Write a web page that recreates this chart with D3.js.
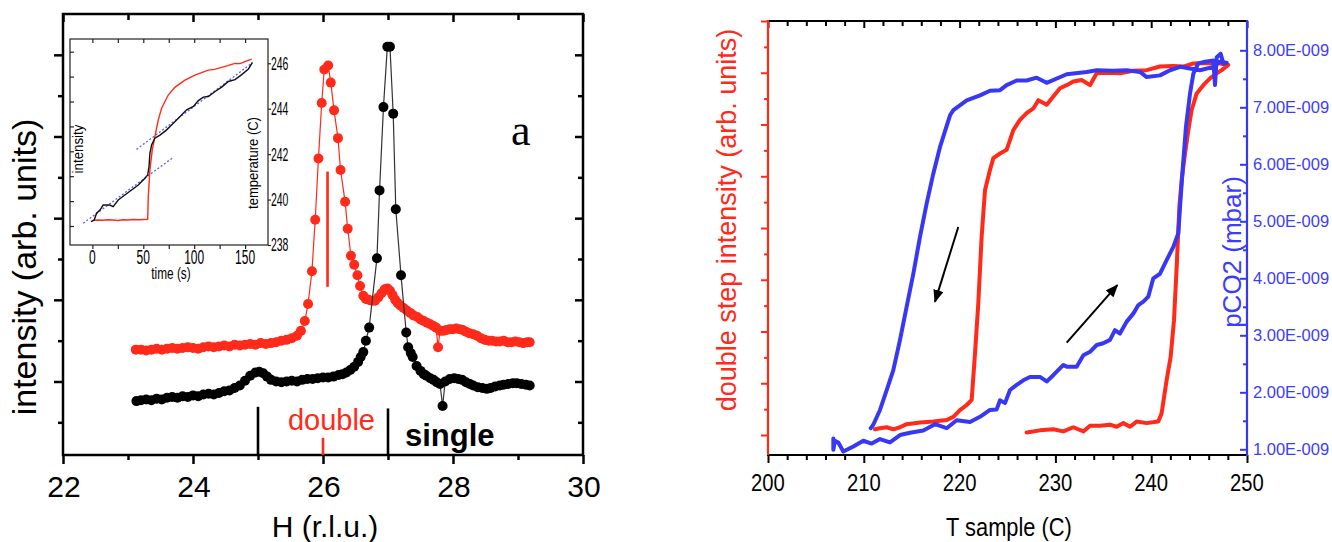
<!DOCTYPE html>
<html>
<head>
<meta charset="utf-8">
<script src="https://cdn.jsdelivr.net/npm/d3@7"></script>
<style>
  body { margin: 0; background: #fff; }
  svg { display: block; font-family: Arial, "Liberation Sans", Helvetica, sans-serif; }
</style>
</head>
<body>
<svg id="chart" width="1332" height="542"></svg>
<script>
// ---- left panel: H scans (H in r.l.u., intensity in arb. units) ----
const doubleScan = [
  [23.12,0.39],[23.2,0.39],[23.28,0.38],[23.36,0.39],[23.44,0.40],[23.52,0.39],[23.6,0.40],[23.68,0.41],
  [23.76,0.40],[23.84,0.41],[23.92,0.42],[24.0,0.41],[24.08,0.40],[24.16,0.42],[24.24,0.43],[24.32,0.42],
  [24.4,0.43],[24.48,0.44],[24.56,0.43],[24.64,0.45],[24.72,0.44],[24.8,0.45],[24.88,0.46],[24.96,0.45],
  [25.04,0.47],[25.12,0.46],[25.2,0.47],[25.28,0.48],[25.36,0.50],[25.44,0.51],[25.52,0.53],[25.6,0.56],
  [25.66,0.62],[25.72,0.74],[25.77,0.95],[25.83,1.35],[25.88,1.98],[25.93,2.73],[25.98,3.41],[26.02,3.82],
  [26.08,3.87],[26.12,3.66],[26.17,3.32],[26.23,2.98],[26.27,2.59],[26.34,2.20],[26.38,1.87],[26.43,1.54],
  [26.48,1.43],[26.53,1.30],[26.57,1.17],[26.62,1.05],[26.66,1.01],[26.70,1.00],[26.75,0.99],[26.80,0.99],
  [26.85,1.03],[26.90,1.08],[26.95,1.13],[26.99,1.14],[27.03,1.11],[27.07,1.06],[27.11,1.00],[27.15,0.96],
  [27.19,0.93],[27.24,0.90],[27.29,0.87],[27.34,0.84],[27.39,0.81],[27.45,0.79],[27.50,0.76],[27.55,0.74],
  [27.60,0.72],[27.65,0.70],[27.70,0.68],[27.74,0.66],[27.77,0.42],[27.80,0.62],[27.85,0.62],[27.90,0.63],
  [27.95,0.64],[28.00,0.64],[28.05,0.65],[28.10,0.64],[28.15,0.63],[28.20,0.61],[28.25,0.59],[28.31,0.58],
  [28.37,0.56],[28.43,0.53],[28.49,0.51],[28.55,0.50],[28.60,0.50],[28.66,0.49],[28.72,0.49],[28.78,0.50],
  [28.84,0.48],[28.90,0.48],[28.96,0.49],[29.02,0.48],[29.08,0.47],[29.14,0.48],[29.18,0.48]
];
const singleScan = [
  [23.13,-0.24],[23.2,-0.23],[23.28,-0.22],[23.36,-0.23],[23.44,-0.21],[23.52,-0.22],[23.6,-0.20],[23.68,-0.19],
  [23.76,-0.20],[23.84,-0.18],[23.92,-0.19],[24.0,-0.17],[24.08,-0.18],[24.16,-0.16],[24.24,-0.15],[24.32,-0.16],
  [24.4,-0.14],[24.48,-0.12],[24.56,-0.11],[24.64,-0.08],[24.72,-0.05],[24.8,0.01],[24.88,0.07],[24.96,0.11],
  [25.02,0.12],[25.08,0.10],[25.14,0.06],[25.2,0.02],[25.28,0.0],[25.36,-0.01],[25.44,0.0],[25.52,0.01],
  [25.6,0.0],[25.68,0.02],[25.76,0.03],[25.84,0.03],[25.92,0.04],[26.0,0.05],[26.08,0.05],[26.16,0.06],
  [26.24,0.08],[26.3,0.09],[26.36,0.11],[26.42,0.14],[26.48,0.18],[26.54,0.24],[26.58,0.30],[26.62,0.36],
  [26.66,0.50],[26.71,0.66],[26.83,1.51],[26.87,2.34],[26.93,3.36],[26.99,4.10],[27.03,4.10],[27.08,3.28],
  [27.12,2.11],[27.20,1.30],[27.28,0.60],[27.31,0.42],[27.35,0.35],[27.38,0.30],[27.44,0.19],[27.5,0.13],
  [27.55,0.09],[27.59,0.07],[27.65,0.04],[27.7,0.02],[27.75,-0.01],[27.8,-0.03],[27.84,-0.30],[27.88,0.0],
  [27.95,0.03],[28.02,0.04],[28.08,0.03],[28.14,0.02],[28.2,-0.01],[28.26,-0.03],[28.31,-0.05],[28.38,-0.07],
  [28.45,-0.08],[28.52,-0.09],[28.58,-0.08],[28.65,-0.06],[28.72,-0.05],[28.78,-0.04],[28.85,-0.03],[28.92,-0.02],
  [28.98,-0.02],[29.05,-0.03],[29.12,-0.04],[29.18,-0.05]
];
const hTicks = [22, 24, 26, 28, 30];
const hMinor = [23, 25, 27, 29];
const iTicks = [0, 1, 2, 3, 4];
const iMinor = [-0.5, 0.5, 1.5, 2.5, 3.5];
// marker lines: [H, from intensity, to intensity]
const blackMarks = [[25, -0.31, -0.9], [27, -0.33, -0.9]];
const redMarks = [[26, -0.69, -0.9], [26.07, 1.16, 2.57]];

// ---- inset: time scan ----
const insetIntensity = [
  [0,1.22],[5,1.24],[10,1.23],[15,1.25],[20,1.24],[25,1.22],[30,1.25],[35,1.24],[40,1.26],[45,1.25],[50,1.26],
  [54.3,1.27],[54.9,2.18],[56.5,3.25],[58.8,4.05],[61.4,4.59],[64.7,5.26],[68,5.73],[74.5,6.26],[81,6.57],
  [90.9,6.86],[100.7,7.06],[113.8,7.26],[120,7.29],[126.9,7.37],[133,7.44],[140,7.53],[145,7.52],[149.8,7.60],[156.4,7.70]
];
const insetTemperature = [
  [-1.5,239.03],[1.8,239.10],[4.1,239.40],[7.4,239.54],[10.6,239.76],[17.2,239.76],[20.4,239.69],[25.4,239.98],
  [31.9,240.20],[38.5,240.42],[45.1,240.64],[51.6,240.94],[54.3,241.08],[55.6,241.45],[56.5,242.04],[58.2,242.41],
  [61.4,242.70],[66.4,242.84],[72.9,243.07],[79.5,243.36],[86.1,243.66],[92.6,243.95],[99.2,244.10],[104.1,244.36],
  [109,244.51],[113.9,244.54],[120.5,244.76],[127,244.95],[133.6,245.20],[140.1,245.28],[146.7,245.50],
  [153.3,245.75],[157.2,246.04]
];
const insetFits = [
  [[-9, 238.96], [79.5, 241.86]],
  [[43.4, 242.21], [156.5, 246.0]]
];
const tTicks = [0, 50, 100, 150];
const tMinor = [25, 75, 125];
const tempTicks = [238, 240, 242, 244, 246];

// ---- right panel: T sample (C) loop ----
const doubleStep = [
  [211.17,1.11],[211.69,1.13],[212.39,1.15],[213.08,1.11],[213.78,1.15],[214.47,1.21],[215.87,1.24],[217.26,1.26],
  [218.65,1.29],[219.35,1.35],[220.04,1.48],[220.74,1.58],[221.26,1.68],[221.61,2.58],[221.95,3.54],[222.30,4.83],
  [222.65,5.73],[223.17,6.12],[223.52,6.35],[224.22,6.44],[224.91,6.51],[225.61,6.89],[226.30,7.09],[227.00,7.22],
  [227.70,7.31],[228.22,7.47],[229.09,7.38],[229.78,7.54],[230.48,7.70],[231.18,7.76],[231.87,7.83],[232.74,7.86],
  [233.61,7.76],[234.31,7.99],[235.35,8.00],[236.74,7.99],[238.13,8.04],[239.53,8.05],[240.92,8.12],[242.31,8.13],
  [243.35,8.12],[244.40,8.18],[245.79,8.19],[247.18,8.18],[248.05,8.15],[247.36,8.05],[246.84,7.99],[246.14,7.89],
  [245.44,7.76],[244.75,7.60],[244.22,7.28],[243.88,6.89],[243.53,6.44],[243.18,5.93],[242.94,5.41],[242.66,4.25],
  [242.38,3.22],[242.03,2.51],[241.61,2.06],[241.09,1.42],[240.74,1.26],[239.53,1.23],[238.48,1.26],[237.79,1.16],
  [237.09,1.23],[236.40,1.16],[235.70,1.20],[234.66,1.18],[233.61,1.18],[232.92,1.07],[231.87,1.15],[230.83,1.07],
  [229.78,1.11],[228.39,1.09],[227.00,1.05]
];
const pco2 = [
  [206.82,1.19],[206.82,0.99],[206.99,1.15],[207.34,1.12],[207.86,0.96],[208.91,1.05],[209.95,1.15],[210.82,1.10],
  [211.69,1.18],[212.73,1.12],[213.78,1.25],[214.82,1.29],[216.21,1.33],[217.43,1.44],[218.65,1.37],[219.69,1.51],
  [221.09,1.48],[222.13,1.57],[223.17,1.69],[223.87,1.70],[224.22,1.86],[224.74,1.81],[225.26,2.04],[225.96,2.13],
  [226.65,2.21],[227.35,2.27],[228.39,2.27],[229.09,2.19],[229.78,2.30],[230.83,2.48],[231.18,2.45],[232.22,2.45],
  [232.92,2.65],[233.61,2.71],[234.31,2.83],[235.00,2.86],[235.70,2.92],[236.22,3.09],[236.74,3.03],[237.44,3.24],
  [238.13,3.38],[238.66,3.53],[239.18,3.59],[239.70,3.68],[240.22,4.00],[240.92,4.08],[241.61,4.32],[242.31,4.55],
  [242.83,4.79],[243.01,5.25],[243.28,5.90],[243.63,6.66],[244.05,7.24],[244.40,7.59],[244.92,7.77],[245.62,7.80],
  [246.49,7.82],[246.66,7.39],[246.84,7.88],[247.25,7.94],[247.53,7.77],[247.88,7.78],[247.18,7.80],[246.49,7.71],
  [245.10,7.65],[244.05,7.68],[243.01,7.71],[241.96,7.65],[240.92,7.56],[239.53,7.53],[238.83,7.62],[237.44,7.65],
  [236.05,7.64],[234.31,7.65],[233.26,7.62],[231.18,7.58],[229.09,7.43],[228.04,7.52],[227.00,7.47],[225.96,7.47],
  [224.91,7.39],[224.22,7.30],[223.17,7.29],[222.13,7.21],[220.74,7.12],[219.35,6.95],[219.00,6.86],[217.95,6.30],
  [217.26,5.84],[216.56,5.31],[215.87,4.73],[215.17,4.08],[214.47,3.50],[213.78,2.92],[213.08,2.39],[212.39,2.04],
  [211.69,1.69],[210.99,1.43],[210.72,1.37]
];
// arrows in (T, pCO2) units: [from, to]
const arrows = [
  [[219.86, 4.90], [217.43, 3.59]],
  [[231.18, 2.87], [236.46, 3.88]]
];
const tempAxisTicks = [200, 210, 220, 230, 240, 250];
const tempAxisMinor = d3.range(202, 250, 2).filter(d => d % 10 !== 0);
const redTicks = [1, 2, 3, 4, 5, 6, 7, 8, 9];
const redMinor = [1.5, 2.5, 3.5, 4.5, 5.5, 6.5, 7.5, 8.5];
const pTicks = [1, 2, 3, 4, 5, 6, 7, 8];
const pMinor = [1.5, 2.5, 3.5, 4.5, 5.5, 6.5, 7.5];

const RED = "#ff2a1a";
const BLUE = "#3838f2";
const BLUE_TXT = "#3c3cff";

const svg = d3.select("#chart");

// squeeze text horizontally like the narrow fonts of the original
function squeeze(sel, k) {
  sel.each(function () {
    const w = this.getComputedTextLength();
    d3.select(this).attr("textLength", w * k).attr("lengthAdjust", "spacingAndGlyphs");
  });
}

function ticks(axisGen, values, size, color, width, transform) {
  const g = svg.append("g").attr("transform", transform)
    .call(axisGen.tickValues(values).tickSize(size).tickFormat(""));
  g.select(".domain").remove();
  g.selectAll(".tick text").remove();
  g.selectAll(".tick line").attr("stroke", color).attr("stroke-width", width);
  return g;
}

// ================= left panel =================
const xL = d3.scaleLinear([22, 30], [63, 583]);
const yL = d3.scaleLinear([-0.9, 4.5], [455, 14]);

ticks(d3.axisBottom(xL), hTicks, 9, "#000", 2.5, "translate(0,455)");
ticks(d3.axisBottom(xL), hMinor, 5, "#000", 2.5, "translate(0,455)");
ticks(d3.axisTop(xL), hTicks, -8, "#000", 2.5, "translate(0,14)");
ticks(d3.axisTop(xL), hMinor, -6, "#000", 2.5, "translate(0,14)");
ticks(d3.axisLeft(yL), iTicks, 9, "#000", 2.5, "translate(63,0)");
ticks(d3.axisLeft(yL), iMinor, 5, "#000", 2.5, "translate(63,0)");
ticks(d3.axisRight(yL), iTicks, -8, "#000", 2.5, "translate(583,0)");
ticks(d3.axisRight(yL), iMinor, -5, "#000", 2.5, "translate(583,0)");

svg.append("rect").attr("x", 63).attr("y", 14).attr("width", 520).attr("height", 441)
  .attr("fill", "none").attr("stroke", "#000").attr("stroke-width", 2.5);

svg.append("g").selectAll("text").data(hTicks).join("text")
  .attr("x", d => xL(d) + 1).attr("y", 497)
  .attr("text-anchor", "middle").attr("font-size", 30).attr("fill", "#000")
  .text(d => d);

svg.append("text").attr("x", 325).attr("y", 537).attr("text-anchor", "middle")
  .attr("font-size", 30).attr("fill", "#000").text("H (r.l.u.)");

svg.append("text").attr("transform", "translate(36,267) rotate(-90)")
  .attr("text-anchor", "middle").attr("font-size", 34).attr("fill", "#000")
  .text("intensity (arb. units)");

const lineL = d3.line().x(d => xL(d[0])).y(d => yL(d[1]));

function scan(data, color, lineColor) {
  svg.append("path").datum(data).attr("d", lineL)
    .attr("fill", "none").attr("stroke", lineColor).attr("stroke-width", 1.2);
  svg.append("g").selectAll("circle").data(data).join("circle")
    .attr("cx", d => xL(d[0])).attr("cy", d => yL(d[1])).attr("r", 5)
    .attr("fill", color);
}
scan(doubleScan, RED, RED);
scan(singleScan, "#000", "#333");

svg.append("g").selectAll("line").data(blackMarks).join("line")
  .attr("x1", d => xL(d[0])).attr("x2", d => xL(d[0]))
  .attr("y1", d => yL(d[1])).attr("y2", d => yL(d[2]))
  .attr("stroke", "#000").attr("stroke-width", 2.6);
svg.append("g").selectAll("line").data(redMarks).join("line")
  .attr("x1", d => xL(d[0])).attr("x2", d => xL(d[0]))
  .attr("y1", d => yL(d[1])).attr("y2", d => yL(d[2]))
  .attr("stroke", RED).attr("stroke-width", 2.6);

svg.append("text").attr("x", xL(26.13)).attr("y", 430).attr("text-anchor", "middle")
  .attr("font-size", 29).attr("fill", RED).text("double");
svg.append("text").attr("x", 405).attr("y", 446).attr("font-size", 31)
  .attr("font-weight", "bold").attr("fill", "#000").text("single");
svg.append("text").attr("x", 511).attr("y", 145)
  .attr("font-family", "'Liberation Serif', 'Times New Roman', serif")
  .attr("font-size", 44).attr("fill", "#000").text("a");

// ---- inset ----
const xI = d3.scaleLinear([-22, 172.5], [70, 268]);
const yIT = d3.scaleLinear([238, 247.07], [245, 39]);
const yII = d3.scaleLinear([0.237, 8.51], [245, 39]);

svg.append("rect").attr("x", 70).attr("y", 39).attr("width", 198).attr("height", 206)
  .attr("fill", "#fff").attr("stroke", "#222").attr("stroke-width", 1.2);

ticks(d3.axisBottom(xI), tTicks.concat(tMinor), 4, "#222", 1.2, "translate(0,245)");
ticks(d3.axisTop(xI), tTicks.concat(tMinor), -4, "#222", 1.2, "translate(0,39)");
ticks(d3.axisLeft(yII), [1, 2, 3, 4, 5, 6, 7, 8], -4, "#222", 1.2, "translate(70,0)");
ticks(d3.axisRight(yIT), tempTicks, 3, "#222", 1.2, "translate(268,0)");

const lineIT = d3.line().x(d => xI(d[0])).y(d => yIT(d[1]));
const lineII = d3.line().x(d => xI(d[0])).y(d => yII(d[1]));

svg.append("g").selectAll("path").data(insetFits).join("path")
  .attr("d", lineIT).attr("fill", "none").attr("stroke", "#5b5bff")
  .attr("stroke-width", 1.3).attr("stroke-dasharray", "2,2");
svg.append("path").datum(insetIntensity).attr("d", lineII)
  .attr("fill", "none").attr("stroke", RED).attr("stroke-width", 1.4);
svg.append("path").datum(insetTemperature).attr("d", lineIT)
  .attr("fill", "none").attr("stroke", "#111").attr("stroke-width", 1.4);

svg.append("g").selectAll("text").data(tTicks).join("text")
  .attr("x", d => xI(d)).attr("y", 264).attr("text-anchor", "middle")
  .attr("font-size", 20).attr("fill", "#000").text(d => d)
  .call(squeeze, 0.6);
svg.append("g").selectAll("text").data(tempTicks).join("text")
  .attr("x", 271).attr("y", d => yIT(d)).attr("dy", "0.36em")
  .attr("font-size", 18).attr("fill", "#000").text(d => d)
  .call(squeeze, 0.58);
svg.append("text").attr("x", 171).attr("y", 279).attr("text-anchor", "middle")
  .attr("font-size", 16).attr("fill", "#000").text("time (s)").call(squeeze, 0.74);
svg.append("text").attr("transform", "translate(83,149) rotate(-90)")
  .attr("text-anchor", "middle").attr("font-size", 14).attr("fill", "#000")
  .text("intensity").call(squeeze, 0.95);
svg.append("text").attr("transform", "translate(258,163) rotate(-90)")
  .attr("text-anchor", "middle").attr("font-size", 14).attr("fill", "#000")
  .text("temperature (C)").call(squeeze, 0.93);

// ================= right panel =================
const xR = d3.scaleLinear([200, 250], [768, 1247]);
const yRed = d3.scaleLinear([0.614, 9.0], [455, 21]);
const yBlue = d3.scaleLinear([0.9, 8.514], [455, 21]);

ticks(d3.axisBottom(xR), tempAxisTicks, 8, "#000", 2, "translate(0,455)");
ticks(d3.axisBottom(xR), tempAxisMinor, 5, "#000", 2, "translate(0,455)");
ticks(d3.axisTop(xR), tempAxisTicks, -7, "#000", 2, "translate(0,21)");
ticks(d3.axisTop(xR), tempAxisMinor, -5, "#000", 2, "translate(0,21)");
ticks(d3.axisLeft(yRed), redTicks, 7, RED, 2, "translate(768,0)");
ticks(d3.axisLeft(yRed), redMinor, 4, RED, 2, "translate(768,0)");
ticks(d3.axisRight(yBlue), pTicks, -7, BLUE, 2, "translate(1247,0)");
ticks(d3.axisRight(yBlue), pMinor, -4, BLUE, 2, "translate(1247,0)");

svg.append("line").attr("x1", 767).attr("x2", 1248).attr("y1", 21).attr("y2", 21)
  .attr("stroke", "#000").attr("stroke-width", 2);
svg.append("line").attr("x1", 767).attr("x2", 1248).attr("y1", 455).attr("y2", 455)
  .attr("stroke", "#000").attr("stroke-width", 2);
svg.append("line").attr("x1", 768).attr("x2", 768).attr("y1", 20).attr("y2", 455)
  .attr("stroke", RED).attr("stroke-width", 2.2);
svg.append("line").attr("x1", 1247).attr("x2", 1247).attr("y1", 20).attr("y2", 456)
  .attr("stroke", BLUE).attr("stroke-width", 2.2);

svg.append("g").selectAll("text").data(tempAxisTicks).join("text")
  .attr("x", d => xR(d)).attr("y", 491).attr("text-anchor", "middle")
  .attr("font-size", 23).attr("fill", "#000").text(d => d)
  .call(squeeze, 0.88);
svg.append("text").attr("x", 1009).attr("y", 536).attr("text-anchor", "middle")
  .attr("font-size", 26).attr("fill", "#000").text("T sample (C)").call(squeeze, 0.84);

svg.append("g").selectAll("text").data(pTicks).join("text")
  .attr("x", 1253).attr("y", d => yBlue(d)).attr("dy", "0.36em")
  .attr("font-size", 16.5).attr("fill", BLUE_TXT).text(d => d.toFixed(2) + "E-009");

svg.append("text").attr("transform", "translate(736,220) rotate(-90)")
  .attr("text-anchor", "middle").attr("font-size", 27).attr("fill", RED)
  .text("double step intensity (arb. units)");
svg.append("text").attr("transform", "translate(1241,252) rotate(-90)")
  .attr("text-anchor", "middle").attr("font-size", 26).attr("fill", BLUE_TXT)
  .text("pCO2 (mbar)");

svg.append("path").datum(doubleStep)
  .attr("d", d3.line().x(d => xR(d[0])).y(d => yRed(d[1])))
  .attr("fill", "none").attr("stroke", RED).attr("stroke-width", 4)
  .attr("stroke-linejoin", "round").attr("stroke-linecap", "round");
svg.append("path").datum(pco2)
  .attr("d", d3.line().x(d => xR(d[0])).y(d => yBlue(d[1])))
  .attr("fill", "none").attr("stroke", BLUE).attr("stroke-width", 4)
  .attr("stroke-linejoin", "round").attr("stroke-linecap", "round");

svg.append("defs").append("marker").attr("id", "head")
  .attr("viewBox", "0 0 10 8").attr("refX", 9).attr("refY", 4)
  .attr("markerWidth", 6.5).attr("markerHeight", 5.2).attr("orient", "auto")
  .append("path").attr("d", "M0,0L10,4L0,8z").attr("fill", "#000");

svg.append("g").selectAll("line").data(arrows).join("line")
  .attr("x1", d => xR(d[0][0])).attr("y1", d => yBlue(d[0][1]))
  .attr("x2", d => xR(d[1][0])).attr("y2", d => yBlue(d[1][1]))
  .attr("stroke", "#000").attr("stroke-width", 2).attr("marker-end", "url(#head)");
</script>
</body>
</html>
